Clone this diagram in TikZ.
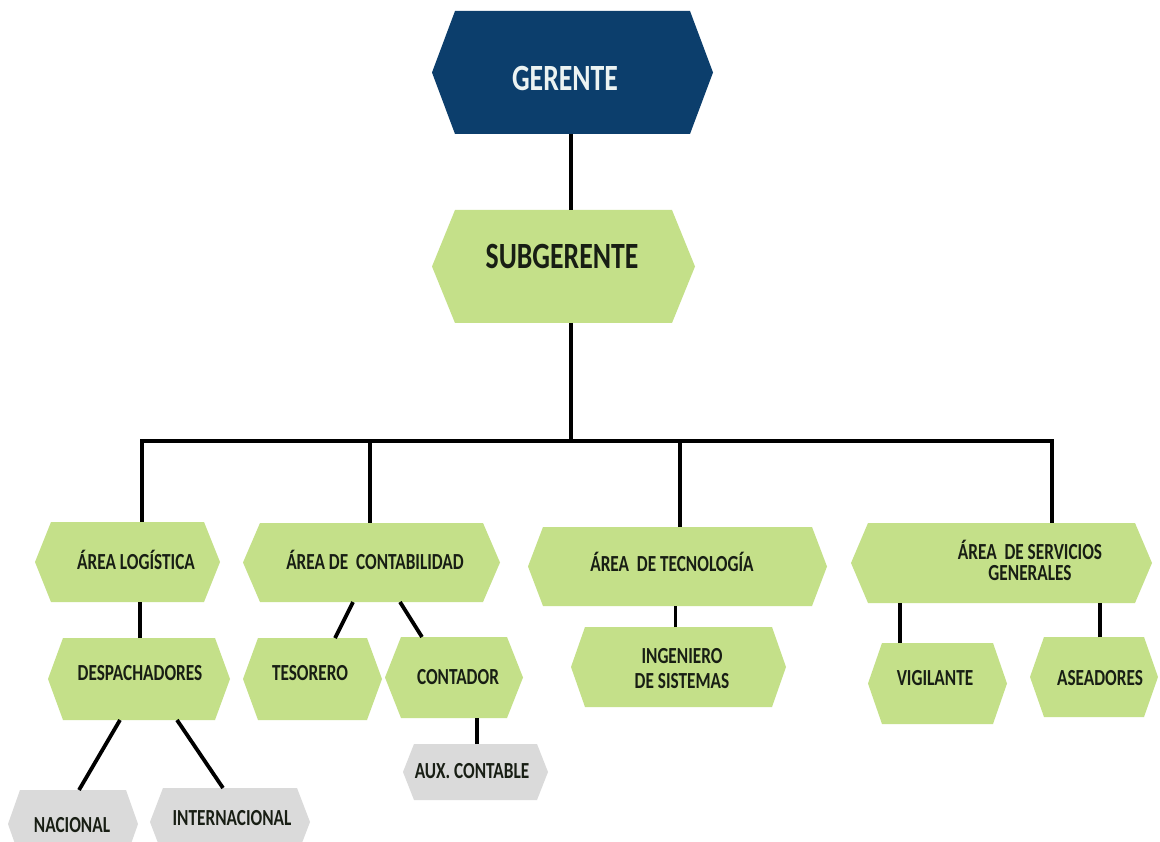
\documentclass[tikz,border=0pt]{standalone}
\usepackage{fontspec}
\setmainfont{Carlito}[FakeStretch=0.75]
\definecolor{navy}{RGB}{12,62,108}
\definecolor{leaf}{RGB}{196,224,137}
\definecolor{ash}{RGB}{218,218,218}
\definecolor{ink}{RGB}{24,30,20}
\definecolor{paper}{RGB}{236,243,242}
\newcommand\hexbox[7]{%
  \node[frame, minimum width={#4-#3}, minimum height={#6-#5}] (#1) at ({(#3+#4)/2},{(#5+#6)/2}) {};
  \fill[#2] (#1.west) -- ([xshift=#7]#1.north west) -- ([xshift=-#7]#1.north east) -- (#1.east)
     -- ([xshift=-#7]#1.south east) -- ([xshift=#7]#1.south west) -- cycle;
}
\tikzset{
  frame/.style={rectangle, draw=none, inner sep=0pt, outer sep=0pt},
  lbl/.style={text=ink, align=center, inner sep=0pt, font=\bfseries\fontsize{23}{23}\selectfont},
  one/.style={text height=15pt, text depth=0pt},
  big/.style={inner sep=0pt, text height=24pt, text depth=0pt, font=\bfseries\fontsize{37}{40}\selectfont},
  link/.style={line width=3.8pt, draw=black}
}
\begin{document}
\begin{tikzpicture}[x=1pt, y=-1pt]
\useasboundingbox (0,0) rectangle (1160,842);
\clip (0,0) rectangle (1160,842);
\fill[white] (0,0) rectangle (1160,842);

% boxes
\hexbox{g}{navy}{432}{713}{11}{134}{23}
\hexbox{s}{leaf}{432}{695}{210}{323}{23}
\hexbox{log}{leaf}{35}{220}{522}{602}{16}
\hexbox{con}{leaf}{243}{500}{523}{602}{17}
\hexbox{tec}{leaf}{528}{827}{527}{606}{15}
\hexbox{ser}{leaf}{851}{1152}{523}{603}{17}
\hexbox{des}{leaf}{48}{230}{638}{720}{15}
\hexbox{tes}{leaf}{243}{382}{638}{720}{15}
\hexbox{cnt}{leaf}{385}{523}{637}{718}{16}
\hexbox{ing}{leaf}{571}{786}{627}{707}{14}
\hexbox{vig}{leaf}{868}{1007}{643}{724}{14}
\hexbox{ase}{leaf}{1030}{1158}{637}{717}{14}
\hexbox{aux}{ash}{403}{548}{744}{800}{11}
\hexbox{nac}{ash}{8}{138}{790}{858}{12}
\hexbox{int}{ash}{150}{310}{788}{856}{13}

% labels
\node[big, text=paper] (gt) at (565,79) {GERENTE};
\node[big, text=ink] (st) at (562,257) {SUBGERENTE};
\node[lbl, one] (logt) at (136,562) {ÁREA LOGÍSTICA};
\node[lbl, one] (cont) at (375,562) {ÁREA DE\ \ CONTABILIDAD};
\node[lbl, one] (tect) at (672,564) {ÁREA\ \ DE TECNOLOGÍA};
\node[lbl, font=\bfseries\fontsize{23}{21}\selectfont] (sert) at (1030,560) {ÁREA\ \ DE SERVICIOS\\GENERALES};
\node[lbl, one] (dest) at (140,673) {DESPACHADORES};
\node[lbl, one] (test) at (310,673) {TESORERO};
\node[lbl, one] (cntt) at (458,677) {CONTADOR};
\node[lbl, font=\bfseries\fontsize{23}{25}\selectfont] (ingt) at (682,669) {INGENIERO\\DE SISTEMAS};
\node[lbl, one] (vigt) at (935,678) {VIGILANTE};
\node[lbl, one] (aset) at (1100,678) {ASEADORES};
\node[lbl, one] (auxt) at (472,771) {AUX. CONTABLE};
\node[lbl, one] (nact) at (72,825) {NACIONAL};
\node[lbl, one] (intt) at (232,818) {INTERNACIONAL};

% connectors
\coordinate (j1) at (142,441);
\coordinate (j2) at (370,441);
\coordinate (js) at (571,441);
\coordinate (j3) at (680,441);
\coordinate (j4) at (1052,441);
\draw[link] (g.south -| js) -- (s.north -| js);
\draw[link] (s.south -| js) -- (js);
\draw[link, line cap=rect] (j1) -- (j4);
\draw[link] (j1) -- (j1 |- log.north);
\draw[link] (j2) -- (j2 |- con.north);
\draw[link] (j3) -- (j3 |- tec.north);
\draw[link] (j4) -- (j4 |- ser.north);
\draw[link] ([xshift=1pt]des.north) -- ([xshift=1pt]des.north |- log.south);
\draw[link] ([xshift=-18.5pt]con.south) -- ([xshift=22.5pt]tes.north);
\draw[link] ([xshift=28.5pt]con.south) -- ([xshift=-32pt]cnt.north);
\draw[link] ([xshift=1.5pt]aux.north) -- ([xshift=1.5pt]aux.north |- cnt.south);
\draw[link] ([xshift=-19pt]des.south) -- ([xshift=6pt]nac.north);
\draw[link] ([xshift=38pt]des.south) -- ([xshift=-7pt]int.north);
\draw[link] ([xshift=-3pt]ing.north) -- ([xshift=-3pt]ing.north |- tec.south);
\draw[link] ([xshift=-37.5pt]vig.north) -- ([xshift=-37.5pt]vig.north |- ser.south);
\draw[link] ([xshift=6pt]ase.north) -- ([xshift=6pt]ase.north |- ser.south);
\end{tikzpicture}
\end{document}
